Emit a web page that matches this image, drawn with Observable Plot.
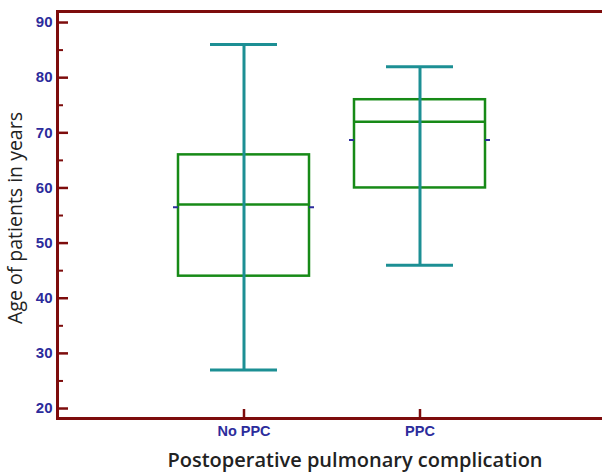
<!DOCTYPE html>
<html>
<head>
<meta charset="utf-8">
<script src="https://cdn.jsdelivr.net/npm/d3@7"></script>
<script src="https://cdn.jsdelivr.net/npm/@observablehq/plot@0.6"></script>
<style>
  html, body { margin: 0; padding: 0; background: #fff; }
</style>
</head>
<body>
<div id="chart"></div>
<script>
// ---- data ----
const groups = ["No PPC", "PPC"];
const whiskerLow = [27, 46];
const q1 = [44, 60];
const median = [57, 72];
const q3 = [66, 76];
const whiskerHigh = [86, 82];
const mean = [56.5, 68.7];
const majorTicks = [20, 30, 40, 50, 60, 70, 80, 90];
const minorTicks = [25, 35, 45, 55, 65, 75, 85];
const yTitle = "Age of patients in years";
const xTitle = "Postoperative pulmonary complication";

const rows = groups.map((g, i) => ({
  group: g, low: whiskerLow[i], q1: q1[i], median: median[i],
  q3: q3[i], high: whiskerHigh[i], mean: mean[i]
}));

// ---- layout ----
const W = 602, H = 473;
const mL = 57, mR = 0, mT = 11, mB = 55;
const frameW = W - mL - mR, frameH = H - mT - mB;
const yDomain = [18.19, 92.0];

const axisRed = "#7d0c0c";
const green = "#178a17";
const teal = "#1c8f94";
const blue = "#2c2c9c";

const chart = Plot.plot({
  width: W,
  height: H,
  marginLeft: mL,
  marginRight: mR,
  marginTop: mT,
  marginBottom: mB,
  style: { background: "#fff", fontFamily: "Liberation Sans, Arial, sans-serif" },
  x: {
    type: "band",
    domain: groups,
    paddingInner: 0.256,
    paddingOuter: 0.673,
    align: 0.51,
    axis: null
  },
  y: { domain: yDomain, axis: null },
  marks: [
    // frame lines (top, left, bottom)
    Plot.ruleY([yDomain[1]], { stroke: axisRed, strokeWidth: 3 }),
    Plot.ruleY([yDomain[0]], { stroke: axisRed, strokeWidth: 3 }),
    Plot.frame({ anchor: "left", stroke: axisRed, strokeWidth: 3 }),
    // y ticks (inward)
    Plot.tickY(majorTicks, { y: d => d, insetRight: frameW - 11, stroke: axisRed, strokeWidth: 2.5 }),
    Plot.tickY(minorTicks, { y: d => d, insetRight: frameW - 6, stroke: axisRed, strokeWidth: 2 }),
    // x ticks (inward, upward)
    Plot.tickX(groups, { x: d => d, insetTop: frameH - 9, stroke: axisRed, strokeWidth: 2.5 }),
    // y tick labels
    Plot.axisY(majorTicks, {
      anchor: "left", tickSize: 0, tickPadding: 5, label: null,
      fontSize: 15, fontWeight: "bold", fill: blue
    }),
    // x tick labels
    Plot.axisX(groups, {
      anchor: "bottom", tickSize: 0, tickPadding: 7, label: null,
      fontSize: 14.5, fontWeight: "bold", fill: blue
    }),
    // boxes
    Plot.barY(rows, { x: "group", y1: "q1", y2: "q3", fill: "none", stroke: green, strokeWidth: 2.5 }),
    Plot.tickY(rows, { x: "group", y: "median", stroke: green, strokeWidth: 2.5 }),
    // mean stubs outside box
    Plot.tickY(rows, { x: "group", y: "mean", stroke: blue, strokeWidth: 2, insetLeft: -5, insetRight: 131 }),
    Plot.tickY(rows, { x: "group", y: "mean", stroke: blue, strokeWidth: 2, insetLeft: 131, insetRight: -5 }),
    // whiskers
    Plot.ruleX(rows, { x: "group", y1: "low", y2: "high", stroke: teal, strokeWidth: 3 }),
    Plot.tickY(rows, { x: "group", y: "low", stroke: teal, strokeWidth: 3, insetLeft: 32, insetRight: 32 }),
    Plot.tickY(rows, { x: "group", y: "high", stroke: teal, strokeWidth: 3, insetLeft: 32, insetRight: 32 }),
    // axis titles
    Plot.text([xTitle], {
      frameAnchor: "bottom", text: d => d, dy: 48, dx: 25, lineAnchor: "bottom", textAnchor: "middle",
      fontSize: 20, fontWeight: 600, fill: "#222", fontFamily: "Open Sans"
    }),
    Plot.text([yTitle], {
      frameAnchor: "left", text: d => d, rotate: -90, dx: -36, dy: 3, lineAnchor: "bottom", textAnchor: "middle",
      fontSize: 19.5, fill: "#222", fontFamily: "Open Sans"
    })
  ]
});

document.getElementById("chart").appendChild(chart);
</script>
</body>
</html>
